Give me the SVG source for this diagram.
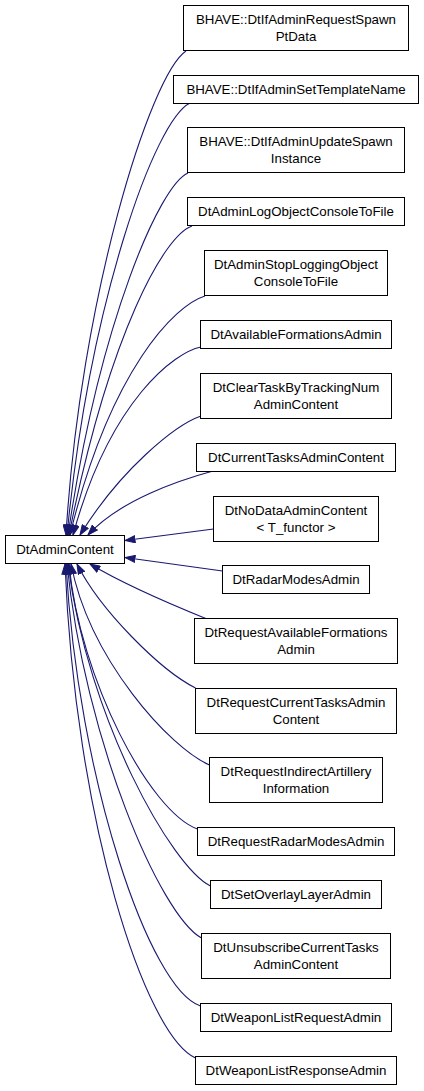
<svg xmlns="http://www.w3.org/2000/svg" width="424" height="1091" viewBox="0 0 424 1091">
<style>
.n rect{fill:#fff;stroke:#000;stroke-width:1}
.n text{font-family:"Liberation Sans",Arial,sans-serif;font-size:13.3px;fill:#000;text-anchor:middle}
.e path{fill:none;stroke:#191970;stroke-width:1.1;marker-end:url(#ah)}
</style>
<defs>
<marker id="ah" markerUnits="userSpaceOnUse" viewBox="0 0 11 8" refX="10.5" refY="4" markerWidth="11" markerHeight="8" orient="auto">
<path d="M0.5,0.5 L10.5,4 L0.5,7.5 z" fill="#191970" stroke="#191970" stroke-width="1"/>
</marker>
</defs>
<rect width="424" height="1091" fill="#fff"/>
<g class="e" id="edges">
<path d="M186,51 C150,75 80,300 66,535"/>
<path d="M190,103 C155,120 90,300 67,535"/>
<path d="M188,173 C160,185 100,320 68,535"/>
<path d="M192,226 C165,235 110,330 69,535"/>
<path d="M205,296 C175,305 110,370 70,535"/>
<path d="M201,347 C175,352 110,400 73,535"/>
<path d="M201,416 C175,425 120,470 80,535"/>
<path d="M213,471 C180,480 120,500 88,535"/>
<path d="M213.5,529 L125,540.5"/>
<path d="M222.5,571 L125,557.5"/>
<path d="M207,619 C170,604 120,582 90,564"/>
<path d="M195.5,688 C160,670 100,610 77,564"/>
<path d="M209.5,765 C170,748 90,660 71,564"/>
<path d="M197.5,829 C150,812 80,680 69,564"/>
<path d="M210.5,886 C172,867 88,720 68,564"/>
<path d="M201.5,938 C160,915 85,740 67,564"/>
<path d="M200.5,1006 C150,990 78,780 66,564"/>
<path d="M195.5,1058 C145,1035 75,820 65,564"/>
</g>
<g class="n" id="node_DtAdminContent"><rect x="5.5" y="535.5" width="119" height="28"/><text x="65" y="553.5">DtAdminContent</text></g>
<g class="n" id="node1"><rect x="183.5" y="5.5" width="225" height="45"/><text x="296" y="23.5">BHAVE::DtIfAdminRequestSpawn</text><text x="296" y="40.5">PtData</text></g>
<g class="n" id="node2"><rect x="173.5" y="75.5" width="245" height="28"/><text x="296" y="94">BHAVE::DtIfAdminSetTemplateName</text></g>
<g class="n" id="node3"><rect x="187.5" y="127.5" width="217" height="45"/><text x="296" y="145.5">BHAVE::DtIfAdminUpdateSpawn</text><text x="296" y="162.5">Instance</text></g>
<g class="n" id="node4"><rect x="187.5" y="197.5" width="217" height="28"/><text x="296" y="216">DtAdminLogObjectConsoleToFile</text></g>
<g class="n" id="node5"><rect x="204.5" y="250.5" width="183" height="45"/><text x="296" y="268.5">DtAdminStopLoggingObject</text><text x="296" y="285.5">ConsoleToFile</text></g>
<g class="n" id="node6"><rect x="200.5" y="320.5" width="191" height="28"/><text x="296" y="339">DtAvailableFormationsAdmin</text></g>
<g class="n" id="node7"><rect x="200.5" y="373.5" width="191" height="45"/><text x="296" y="391.5">DtClearTaskByTrackingNum</text><text x="296" y="408.5">AdminContent</text></g>
<g class="n" id="node8"><rect x="196.5" y="443.5" width="199" height="28"/><text x="296" y="462">DtCurrentTasksAdminContent</text></g>
<g class="n" id="node9"><rect x="213.5" y="496.5" width="165" height="45"/><text x="296" y="514.5">DtNoDataAdminContent</text><text x="296" y="531.5">&lt; T_functor &gt;</text></g>
<g class="n" id="node10"><rect x="222.5" y="565.5" width="147" height="28"/><text x="296" y="584">DtRadarModesAdmin</text></g>
<g class="n" id="node11"><rect x="194.5" y="618.5" width="203" height="45"/><text x="296" y="636.5">DtRequestAvailableFormations</text><text x="296" y="653.5">Admin</text></g>
<g class="n" id="node12"><rect x="195.5" y="688.5" width="201" height="45"/><text x="296" y="706.5">DtRequestCurrentTasksAdmin</text><text x="296" y="723.5">Content</text></g>
<g class="n" id="node13"><rect x="209.5" y="757.5" width="173" height="45"/><text x="296" y="775.5">DtRequestIndirectArtillery</text><text x="296" y="792.5">Information</text></g>
<g class="n" id="node14"><rect x="197.5" y="827.5" width="197" height="28"/><text x="296" y="846">DtRequestRadarModesAdmin</text></g>
<g class="n" id="node15"><rect x="210.5" y="880.5" width="171" height="28"/><text x="296" y="899">DtSetOverlayLayerAdmin</text></g>
<g class="n" id="node16"><rect x="201.5" y="933.5" width="189" height="45"/><text x="296" y="951.5">DtUnsubscribeCurrentTasks</text><text x="296" y="968.5">AdminContent</text></g>
<g class="n" id="node17"><rect x="200.5" y="1003.5" width="191" height="28"/><text x="296" y="1022">DtWeaponListRequestAdmin</text></g>
<g class="n" id="node18"><rect x="195.5" y="1056.5" width="201" height="28"/><text x="296" y="1075">DtWeaponListResponseAdmin</text></g>
</svg>
